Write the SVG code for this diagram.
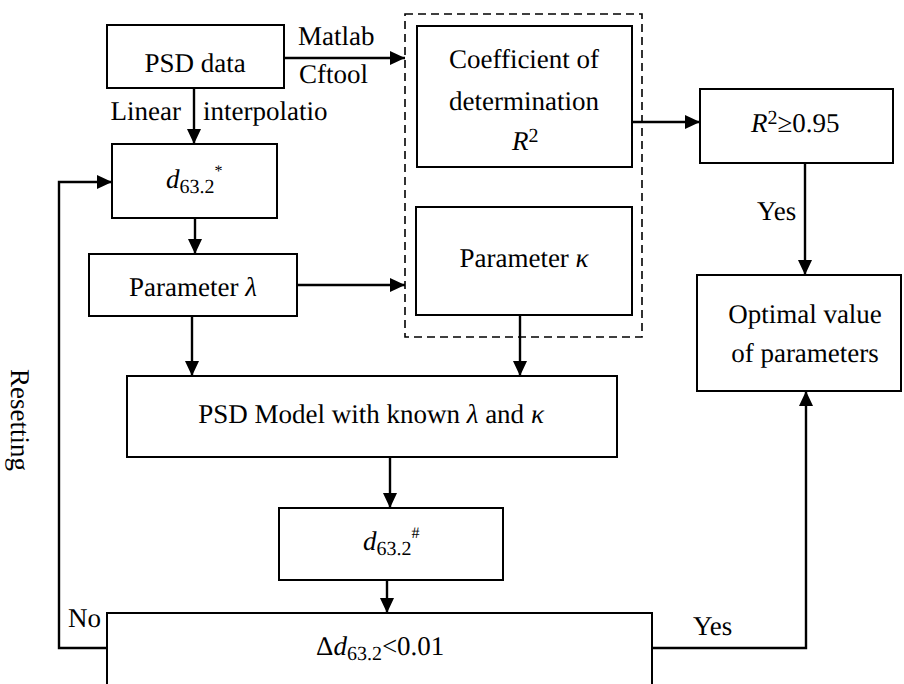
<svg xmlns="http://www.w3.org/2000/svg" width="904" height="684" viewBox="0 0 904 684" font-family="'Liberation Serif', 'Times New Roman', serif">
<style>
.box{fill:#fff;stroke:#000;stroke-width:2}
.dash{fill:none;stroke:#000;stroke-width:1.6;stroke-dasharray:8 5}
.ln{fill:none;stroke:#000;stroke-width:2.4}
text{font-family:'Liberation Serif', 'Times New Roman', serif;font-size:27px;fill:#000;text-rendering:geometricPrecision}
.c{text-anchor:middle}
.i{font-style:italic}
.sub{font-size:20px}
.sup{font-size:16px}
</style>
<defs>
<marker id="ah" markerUnits="userSpaceOnUse" markerWidth="16" markerHeight="14" refX="15" refY="7" orient="auto">
<path d="M0,0 L15,7 L0,14 Z" fill="#000"/>
</marker>
</defs>
<rect class="dash" x="405" y="14" width="237" height="323"/>
<g id="psd"><rect class="box" x="107" y="25" width="177" height="63"/><text class="c" x="195" y="72">PSD data</text></g>
<g id="dstar"><rect class="box" x="112" y="144" width="165" height="74"/><text x="166" y="188"><tspan class="i">d</tspan><tspan class="sub" dy="5">63.2</tspan><tspan class="sup" dy="-17">*</tspan></text></g>
<g id="lambda"><rect class="box" x="89" y="254" width="208" height="62"/><text class="c" x="193" y="296">Parameter <tspan class="i">λ</tspan></text></g>
<g id="coef"><rect class="box" x="417" y="26" width="215" height="141"/><text class="c" x="524" y="68">Coefficient of</text><text class="c" x="524" y="110">determination</text><text x="512" y="150"><tspan class="i">R</tspan><tspan class="sub" dy="-8">2</tspan></text></g>
<g id="kappa"><rect class="box" x="416" y="207" width="216" height="108"/><text class="c" x="524" y="267">Parameter <tspan class="i">κ</tspan></text></g>
<g id="r2"><rect class="box" x="700" y="89" width="193" height="74"/><text x="751" y="132"><tspan class="i">R</tspan><tspan class="sub" dy="-8">2</tspan><tspan dy="8">≥0.95</tspan></text></g>
<g id="optimal"><rect class="box" x="697" y="275" width="204" height="116"/><text class="c" x="805" y="323">Optimal value</text><text class="c" x="805" y="362">of parameters</text></g>
<g id="model"><rect class="box" x="127" y="376" width="490" height="81"/><text class="c" x="371" y="423">PSD Model with known <tspan class="i">λ</tspan> and <tspan class="i">κ</tspan></text></g>
<g id="dhash"><rect class="box" x="279" y="508" width="224" height="72"/><text x="363" y="550"><tspan class="i">d</tspan><tspan class="sub" dy="5">63.2</tspan><tspan class="sup" dy="-17">#</tspan></text></g>
<g id="delta"><rect class="box" x="107" y="613" width="545" height="72"/><text x="316" y="655">Δ<tspan class="i">d</tspan><tspan class="sub" dy="5">63.2</tspan><tspan dy="-5">&lt;0.01</tspan></text></g>
<g id="connectors">
<line class="ln" x1="284" y1="58" x2="405" y2="58" marker-end="url(#ah)"/>
<line class="ln" x1="194" y1="88" x2="194" y2="144" marker-end="url(#ah)"/>
<line class="ln" x1="195" y1="218" x2="195" y2="254" marker-end="url(#ah)"/>
<line class="ln" x1="297" y1="285" x2="405" y2="285" marker-end="url(#ah)"/>
<line class="ln" x1="192" y1="316" x2="192" y2="376" marker-end="url(#ah)"/>
<line class="ln" x1="520" y1="315" x2="520" y2="376" marker-end="url(#ah)"/>
<line class="ln" x1="632" y1="122" x2="700" y2="122" marker-end="url(#ah)"/>
<line class="ln" x1="805" y1="163" x2="805" y2="275" marker-end="url(#ah)"/>
<line class="ln" x1="390" y1="457" x2="390" y2="508" marker-end="url(#ah)"/>
<line class="ln" x1="387" y1="580" x2="387" y2="613" marker-end="url(#ah)"/>
<polyline class="ln" points="652,648 806,648 806,391" marker-end="url(#ah)"/>
<polyline class="ln" points="107,648 59,648 59,182 112,182" marker-end="url(#ah)"/>
<text x="298" y="45">Matlab</text>
<text x="299" y="83">Cftool</text>
<text x="181" y="120" text-anchor="end">Linear</text>
<text x="203" y="120">interpolatio</text>
<text x="757" y="220">Yes</text>
<text x="693" y="635">Yes</text>
<text x="68" y="627">No</text>
<text class="c" transform="translate(11,420) rotate(90)">Resetting</text>
</g>
</svg>
